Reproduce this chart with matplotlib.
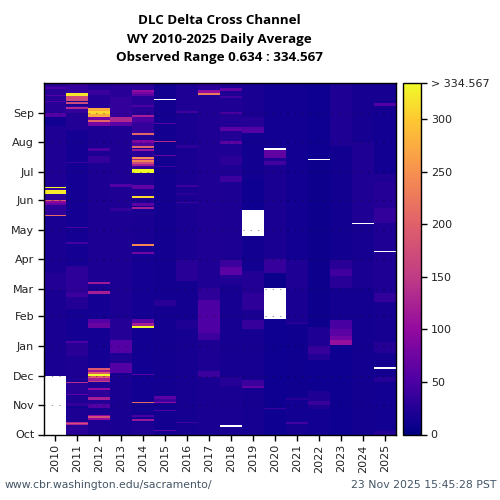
import numpy as np
import matplotlib
matplotlib.use("Agg")
import matplotlib.pyplot as plt
from matplotlib.colors import LinearSegmentedColormap

NA = float("nan")
years = list(range(2010, 2026))
month_labels = ["Oct", "Nov", "Dec", "Jan", "Feb", "Mar", "Apr", "May", "Jun", "Jul", "Aug", "Sep"]
month_days = [0, 31, 61, 92, 123, 151, 182, 212, 243, 273, 304, 334]
cbar_values = [0, 50, 100, 150, 200, 250, 300, 334.567]
cbar_labels = ["0", "50", "100", "150", "200", "250", "300", "> 334.567"]
cmap_levels = [0, 10, 25, 50, 100, 150, 200, 250, 300, 334.567]
cmap_colors = ["#00007f", "#0e0090", "#240096", "#4c00a4", "#930a9f", "#c03c85", "#e0606a", "#f79050",
               "#fec832", "#f0fc28"]

# each band: first day of water year, last day (exclusive), daily average; later bands overwrite
b2010 = [(0, 61, NA), (61, 150, 18), (150, 168, 24), (168, 228, 18), (228, 238, 32), (227, 228, 210),
         (238, 240, 70), (240, 244, 95), (242, 243, 185), (244, 250, 30), (250, 254, 320), (256, 257, 334),
         (254, 256, 40), (257, 320, 22), (320, 330, 12), (330, 334, 55), (334, 365, 28), (345, 346, 55),
         (352, 353, 55), (359, 361, 50)]
b2011 = [(0, 1, 20), (1, 8, 30), (8, 10, 25), (10, 13, 125), (11, 12, 175), (13, 28, 20), (30, 33, 35),
         (33, 41, 22), (41, 42, 60), (42, 53, 28), (53, 55, 135), (55, 81, 20), (81, 96, 28), (95, 97, 50),
         (97, 130, 15), (130, 143, 24), (143, 147, 40), (147, 175, 32), (175, 316, 15), (198, 200, 45),
         (214, 215, 50), (282, 283, 40), (316, 334, 24), (334, 341, 35), (338, 340, 130), (343, 345, 170),
         (346, 351, 170), (351, 352, 100), (352, 355, 320), (355, 365, 35)]
b2012 = [(0, 15, 20), (15, 20, 100), (17, 19, 175), (20, 27, 18), (27, 32, 55), (32, 36, 25), (36, 39, 120),
         (39, 46, 32), (46, 48, 100), (48, 54, 22), (54, 56, 160), (56, 59, 120), (59, 61, 190), (61, 63, 334),
         (63, 65, 190), (65, 67, 110), (67, 69, 190), (69, 111, 15), (111, 116, 70), (116, 120, 55),
         (120, 146, 15), (146, 149, 120), (149, 156, 18), (156, 158, 115), (158, 282, 20), (282, 289, 35),
         (289, 294, 20), (294, 297, 50), (297, 320, 20), (320, 325, 80), (325, 327, 205), (327, 330, 80),
         (330, 333, 270), (333, 336, 310), (336, 339, 275), (339, 353, 25), (353, 358, 38), (358, 365, 25)]
b2013 = [(0, 64, 18), (64, 74, 55), (74, 85, 22), (85, 98, 55), (98, 120, 26), (120, 232, 20), (232, 235, 35),
         (235, 257, 22), (257, 260, 55), (260, 320, 22), (320, 324, 60), (324, 330, 130), (330, 350, 35),
         (350, 365, 28)]
b2014 = [(0, 8, 22), (8, 13, 20), (14, 16, 110), (18, 20, 50), (20, 33, 14), (33, 34, 210), (34, 62, 12),
         (62, 63, 60), (63, 111, 12), (111, 113, 334), (113, 116, 120), (116, 120, 60), (120, 188, 15),
         (187, 189, 80), (189, 197, 15), (196, 198, 240), (198, 233, 18), (234, 236, 120), (237, 240, 60),
         (240, 246, 22), (246, 248, 310), (248, 256, 22), (255, 259, 65), (259, 272, 22), (272, 276, 334),
         (276, 279, 35), (279, 281, 120), (281, 283, 170), (283, 285, 235), (285, 286, 120), (286, 288, 245),
         (288, 294, 28), (294, 296, 110), (298, 300, 205), (300, 303, 50), (303, 306, 85), (306, 311, 22),
         (311, 313, 205), (313, 325, 35), (325, 330, 50), (330, 332, 120), (332, 340, 28), (340, 342, 50),
         (342, 352, 28), (352, 354, 60), (354, 356, 80), (356, 358, 100), (358, 365, 30)]
b2015 = [(0, 4, 14), (4, 5, 60), (5, 24, 14), (24, 25, 50), (25, 33, 14), (33, 34, 100), (34, 37, 40),
         (37, 40, 60), (40, 133, 14), (133, 140, 28), (140, 278, 14), (278, 279, 40), (279, 289, 14),
         (289, 290, 70), (290, 304, 14), (304, 305, 130), (305, 322, 14), (322, 323, 55), (323, 347, 14),
         (347, 348, NA), (348, 365, 14)]
b2016 = [(0, 12, 16), (12, 13, 40), (13, 110, 16), (110, 119, 22), (119, 159, 14), (159, 181, 28), (181, 240, 18),
         (240, 241, 40), (241, 249, 18), (249, 251, 28), (251, 257, 18), (257, 259, 40), (259, 297, 18),
         (297, 301, 32), (301, 334, 18), (334, 336, 42), (336, 365, 22)]
b2017 = [(0, 60, 18), (60, 66, 40), (66, 98, 20), (98, 105, 40), (105, 128, 52), (128, 140, 50), (140, 152, 32),
         (152, 181, 22), (181, 353, 22), (353, 355, 225), (355, 358, 100), (358, 365, 28)]
b2018 = [(0, 8, 18), (8, 10, NA), (10, 50, 18), (50, 60, 26), (60, 155, 16), (155, 162, 22), (162, 166, 28),
         (166, 174, 60), (174, 181, 40), (181, 262, 20), (262, 268, 40), (268, 280, 22), (280, 289, 30),
         (289, 302, 22), (302, 305, 60), (305, 315, 24), (315, 319, 60), (319, 333, 24), (333, 335, 50),
         (335, 349, 22), (349, 351, 45), (351, 357, 22), (357, 360, 65), (360, 365, 22)]
b2019 = [(0, 48, 16), (48, 50, 65), (50, 57, 40), (57, 110, 16), (110, 119, 36), (119, 129, 18), (129, 147, 32),
         (147, 170, 24), (170, 206, 13), (206, 233, NA), (233, 265, 10), (265, 313, 13), (313, 319, 55),
         (319, 330, 26), (330, 365, 18)]
b2020 = [(0, 26, 10), (26, 27, 40), (27, 120, 10), (120, 152, NA), (152, 168, 8), (168, 182, 36), (182, 280, 18),
         (280, 284, 45), (284, 287, 22), (287, 295, 65), (295, 298, NA), (298, 365, 12)]
b2021 = [(0, 11, 16), (11, 13, 45), (13, 36, 12), (36, 38, 28), (38, 115, 11), (115, 116, 35), (116, 152, 18),
         (152, 181, 22), (181, 300, 12), (300, 365, 12)]
b2022 = [(0, 26, 12), (26, 45, 22), (31, 35, 38), (45, 77, 10), (77, 90, 24), (84, 92, 36), (92, 112, 22),
         (112, 285, 9), (285, 286, NA), (286, 365, 10)]
b2023 = [(0, 93, 10), (93, 98, 105), (98, 102, 75), (102, 110, 60), (110, 119, 48), (119, 152, 14), (152, 165, 28),
         (165, 172, 42), (172, 181, 28), (181, 300, 13), (300, 365, 22)]
b2024 = [(0, 152, 14), (152, 181, 18), (181, 219, 16), (219, 220, NA), (220, 304, 22), (304, 365, 16)]
b2025 = [(0, 4, 26), (4, 55, 12), (55, 60, 26), (60, 68, 14), (68, 70, NA), (70, 85, 14), (85, 96, 26),
         (96, 138, 16), (138, 147, 34), (147, 181, 22), (181, 190, 22), (190, 191, NA), (191, 220, 22),
         (220, 235, 34), (235, 262, 25), (262, 270, 22), (270, 335, 12), (335, 341, 14), (341, 344, 55),
         (344, 365, 16)]
bands = [b2010, b2011, b2012, b2013, b2014, b2015, b2016, b2017, b2018, b2019, b2020, b2021, b2022, b2023,
         b2024, b2025]

grid = np.full((365, len(years)), 15.0)
for col, band in enumerate(bands):
    for start, stop, val in band:
        grid[start:stop, col] = val

cmap = LinearSegmentedColormap.from_list(
    "flow", [(v / cmap_levels[-1], c) for v, c in zip(cmap_levels, cmap_colors)], N=512)

fig = plt.figure(figsize=(5, 5), dpi=100)
ax = fig.add_axes([44 / 500, 1 - 434.5 / 500, 352 / 500, 351.5 / 500])
x_edges = np.arange(len(years) + 1) - 0.5
y_edges = np.arange(366)
mesh = ax.pcolormesh(x_edges, y_edges, grid, cmap=cmap, vmin=0, vmax=334.567, shading="flat")
ax.set_xlim(-0.5, len(years) - 0.5)
ax.set_ylim(0, 365)
ax.set_xticks(range(len(years)))
ax.set_xticklabels(years, rotation=90, fontsize=8, color="#222222")
ax.set_yticks(month_days)
ax.set_yticklabels(month_labels, fontsize=8, color="#222222")
ax.tick_params(length=4, width=1, pad=3)
for s in ax.spines.values():
    s.set_linewidth(1)
ax.grid(axis="y", color="black", alpha=0.55, linewidth=0.5, linestyle=(0, (2, 8.6)))
ax.set_axisbelow(False)

cax = fig.add_axes([403 / 500, 1 - 434.5 / 500, 18 / 500, 351.5 / 500])
cb = fig.colorbar(mesh, cax=cax)
cb.set_ticks(cbar_values)
cb.set_ticklabels(cbar_labels, fontsize=8, color="#222222")
cb.ax.tick_params(length=4, width=1, pad=3)
cb.outline.set_linewidth(1)

for line, ypx in [("DLC Delta Cross Channel", 20), ("WY 2010-2025 Daily Average", 39),
                  ("Observed Range 0.634 : 334.567", 58)]:
    fig.text(219 / 500, 1 - ypx / 500, line, ha="center", va="center", fontsize=9.6,
             fontweight="bold", family="Open Sans", color="#000000")
fig.text(5 / 500, 1 - 485 / 500, "www.cbr.washington.edu/sacramento/", ha="left", va="center", fontsize=7.85,
         color="#445566")
fig.text(496 / 500, 1 - 485 / 500, "23 Nov 2025 15:45:28 PST", ha="right", va="center", fontsize=7.85,
         color="#445566")
fig.savefig("out.png", dpi=100)
